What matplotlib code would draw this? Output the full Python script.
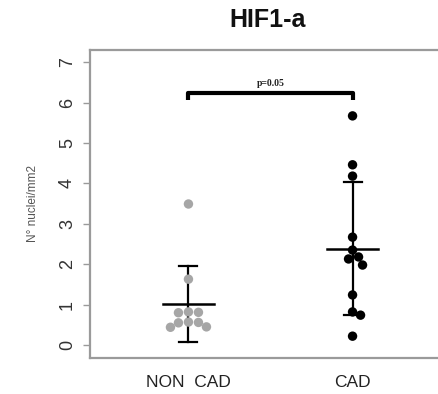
import numpy as np
import matplotlib
matplotlib.use("Agg")
import matplotlib.pyplot as plt

# ---- data ----
groups = ["NON  CAD", "CAD"]
non_cad = [3.49, 1.63, 0.82, 0.81, 0.80, 0.57, 0.56, 0.55, 0.45, 0.44]
cad = [5.67, 4.46, 4.18, 2.67, 2.35, 2.18, 2.13, 1.98, 1.24, 0.82, 0.74, 0.22]
y_ticks = [0, 1, 2, 3, 4, 5, 6, 7]
title = "HIF1-a"
ylabel = "N° nuclei/mm2"
p_text = "p=0.05"
bracket_y = 6.23

colors = ["#a6a6a6", "#000000"]

W, H, DPI = 438, 394, 100
fig = plt.figure(figsize=(W / DPI, H / DPI), dpi=DPI)
ax = fig.add_axes([90 / W, (H - 358) / H, (451 - 90) / W, (358 - 50) / H])
xlim = (0.4, 2.6)
ylim = (-0.32, 7.30)
ax.set_xlim(*xlim)
ax.set_ylim(*ylim)

# pixel scales for swarm layout
ax_w_px = (451 - 90)
ax_h_px = (358 - 50)
px_x = ax_w_px / (xlim[1] - xlim[0])
px_y = ax_h_px / (ylim[1] - ylim[0])
diam = 9.0


def swarm(vals):
    order = np.argsort(vals)[::-1]
    placed = []
    offs = np.zeros(len(vals))
    cands = [0.0]
    for k in range(1, 30):
        cands += [k * 1.0, -k * 1.0]
    for i in order:
        yv = vals[i] * px_y
        for c in cands:
            xo = c * 2.0
            ok = True
            for (px, py) in placed:
                if (px - xo) ** 2 + (py - yv) ** 2 < (diam * 0.95) ** 2:
                    ok = False
                    break
            if ok:
                offs[i] = xo / px_x
                placed.append((xo, yv))
                break
    return offs


for gi, (vals, col) in enumerate(zip([non_cad, cad], colors)):
    xc = gi + 1
    v = np.array(vals)
    offs = swarm(v)
    ax.scatter(xc + offs, v, s=46, color=col, edgecolors="none", zorder=3)
    m = v.mean()
    sd = v.std(ddof=1)
    ax.plot([xc - 0.155, xc + 0.155], [m, m], color="black", lw=1.8, zorder=4)
    ax.plot([xc, xc], [m - sd, m + sd], color="black", lw=1.6, zorder=2)
    for e in (m - sd, m + sd):
        ax.plot([xc - 0.055, xc + 0.055], [e, e], color="black", lw=1.6, zorder=2)

# significance bracket
ax.plot([1, 1, 2, 2], [bracket_y - 0.17, bracket_y, bracket_y, bracket_y - 0.17],
        color="black", lw=3, solid_capstyle="butt", zorder=5)
ax.text(1.5, bracket_y + 0.12, p_text, ha="center", va="bottom", fontsize=7,
        fontweight="bold", family="Liberation Serif", color="#222222")

# axes styling
for s in ["left", "bottom", "top", "right"]:
    ax.spines[s].set_color("#9a9a9a")
    ax.spines[s].set_linewidth(1.6)

ax.set_yticks(y_ticks)
ax.set_yticklabels([str(t) for t in y_ticks], rotation=90, va="center",
                   fontsize=13, family="Liberation Sans", color="#333333")
ax.tick_params(axis="y", length=5, width=1, color="#9a9a9a", pad=5)
ax.set_xticks([1, 2])
ax.set_xticklabels(groups, fontsize=12.5, family="Liberation Sans", color="#222222")
ax.tick_params(axis="x", length=0, pad=12)

fig.text(33 / W, 1 - 203 / H, ylabel, rotation=90, ha="center", va="center",
         fontsize=8.5, family="Liberation Sans", color="#555555")
fig.text(268 / W, 1 - 20 / H, title, ha="center", va="center", fontsize=18,
         fontweight="bold", family="Liberation Sans", color="#111111")

fig.savefig("out.png", dpi=DPI)
